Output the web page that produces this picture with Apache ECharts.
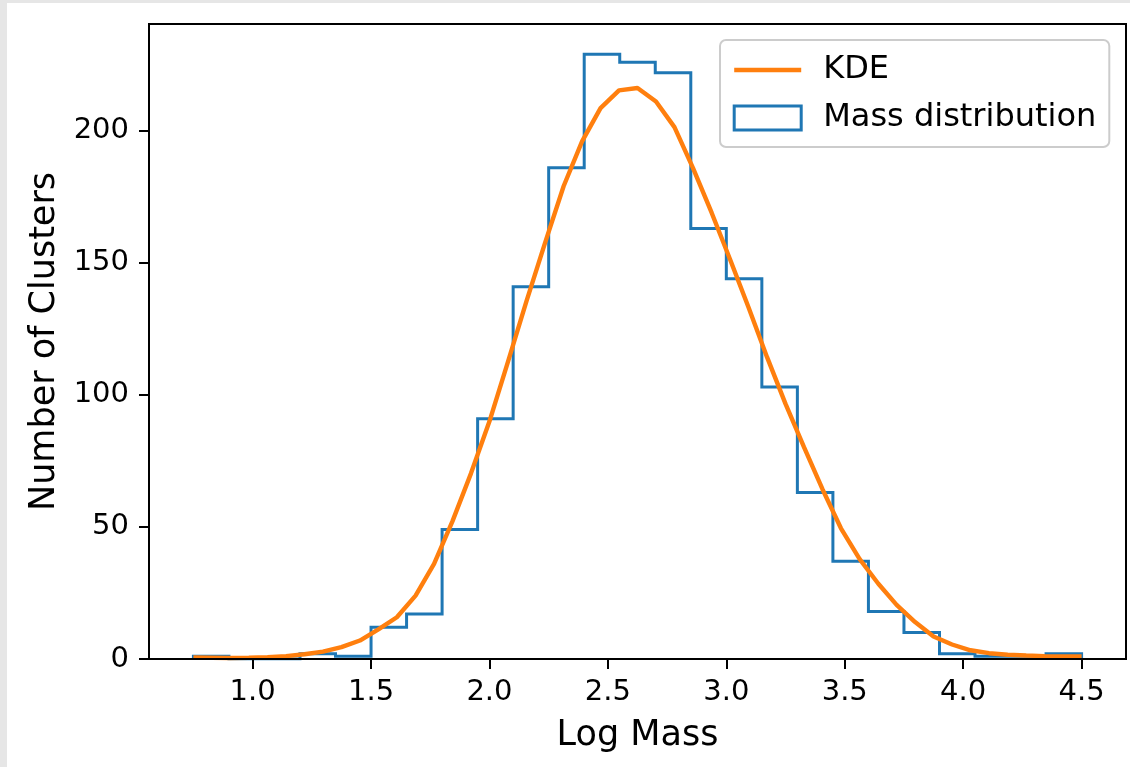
<!DOCTYPE html>
<html>
<head>
<meta charset="utf-8">
<script src="https://cdn.jsdelivr.net/npm/echarts@6/dist/echarts.min.js"></script>
<style>
  html, body { margin: 0; padding: 0; background: #e6e6e6; }
  #paper { position: absolute; left: 7px; top: 3px; width: 1123px; height: 764px; background: #ffffff; }
  #chart { position: absolute; left: 0; top: 0; width: 1130px; height: 767px; }
</style>
</head>
<body>
<div id="paper"></div>
<div id="chart"></div>
<script>
// Histogram bin edges (Log Mass) and counts
const binEdges = [0.75, 0.90, 1.05, 1.20, 1.35, 1.50, 1.65, 1.80, 1.95, 2.10, 2.25, 2.40, 2.55,
                  2.70, 2.85, 3.00, 3.15, 3.30, 3.45, 3.60, 3.75, 3.90, 4.05, 4.20, 4.35, 4.50];
const binCounts = [1, 0, 0, 2, 1, 12, 17, 49, 91, 141, 186, 229, 226,
                   222, 163, 144, 103, 63, 37, 18, 10, 2, 1, 1, 2];

// KDE curve (scaled to counts)
const kdeX = [0.750, 0.828, 0.906, 0.984, 1.063, 1.141, 1.219, 1.297, 1.375, 1.453,
              1.531, 1.609, 1.688, 1.766, 1.844, 1.922, 2.000, 2.078, 2.156, 2.234,
              2.313, 2.391, 2.469, 2.547, 2.625, 2.703, 2.781, 2.859, 2.938, 3.016,
              3.094, 3.172, 3.250, 3.328, 3.406, 3.484, 3.563, 3.641, 3.719, 3.797,
              3.875, 3.953, 4.031, 4.109, 4.188, 4.266, 4.344, 4.422, 4.500];
const kdeY = [0.6, 0.5, 0.4, 0.5, 0.7, 1.1, 1.8, 2.8, 4.5, 7.0,
              11.2, 15.8, 24.0, 36.0, 52.2, 70.3, 90.0, 112.5, 135.4, 157.4,
              179.0, 196.0, 208.6, 215.3, 216.2, 211.1, 201.4, 186.0, 169.0, 151.3,
              133.1, 114.3, 96.6, 80.2, 64.3, 49.5, 37.8, 28.6, 20.5, 14.0,
              8.5, 5.5, 3.3, 2.2, 1.6, 1.3, 1.1, 1.0, 1.0];

const xTicks = [1.0, 1.5, 2.0, 2.5, 3.0, 3.5, 4.0, 4.5];
const yTicks = [0, 50, 100, 150, 200];

const xLabel = 'Log Mass';
const yLabel = 'Number of Clusters';
const kdeName = 'KDE';
const histName = 'Mass distribution';

// Build step outline points from bins
const histPts = [[binEdges[0], 0]];
for (let i = 0; i < binCounts.length; i++) histPts.push([binEdges[i], binCounts[i]]);
histPts.push([binEdges[binEdges.length - 1], 0]);
const kdePts = kdeX.map((x, i) => [x, kdeY[i]]);

const FONT = 'DejaVu Sans';
const chart = echarts.init(document.getElementById('chart'), null, { renderer: 'canvas' });
chart.setOption({
  animation: false,
  backgroundColor: 'transparent',
  textStyle: { fontFamily: FONT },
  grid: {
    left: 149, right: 4, top: 24, bottom: 108,
    show: true, borderColor: '#000', borderWidth: 2, backgroundColor: 'transparent'
  },
  legend: {
    orient: 'vertical',
    left: 720, top: 40,
    padding: [12, 13, 11, 12],
    itemGap: 12,
    itemWidth: 67, itemHeight: 24,
    backgroundColor: 'rgba(255,255,255,0.8)',
    borderColor: '#cccccc', borderWidth: 2, borderRadius: 6,
    textStyle: { fontFamily: FONT, fontSize: 32, color: '#000', lineHeight: 36, padding: [0, 0, 0, 17] },
    data: [
      { name: kdeName, lineStyle: { width: 4.4, color: '#ff7f0e' },
        itemStyle: { color: 'rgba(0,0,0,0)', borderColor: 'rgba(0,0,0,0)', borderWidth: 0, opacity: 0 } },
      { name: histName, icon: 'rect', itemStyle: { color: '#ffffff', borderColor: '#1f77b4', borderWidth: 3 } }
    ]
  },
  xAxis: {
    type: 'value',
    min: 0.5625, max: 4.6875,
    z: 10,
    name: xLabel, nameLocation: 'middle', nameGap: 59,
    nameTextStyle: { fontFamily: FONT, fontSize: 35, color: '#000' },
    axisLine: { show: true, onZero: false, lineStyle: { color: '#000', width: 2 } },
    axisTick: { show: true, customValues: xTicks, length: 10, lineStyle: { color: '#000', width: 2 } },
    axisLabel: { customValues: xTicks, formatter: v => Number(v).toFixed(1),
                 fontFamily: FONT, fontSize: 29, color: '#000', margin: 19 },
    splitLine: { show: false }
  },
  yAxis: {
    type: 'value',
    min: 0, max: 240.45,
    z: 10,
    name: yLabel, nameLocation: 'middle', nameGap: 86,
    nameTextStyle: { fontFamily: FONT, fontSize: 35, color: '#000' },
    axisLine: { show: true, lineStyle: { color: '#000', width: 2 } },
    axisTick: { show: true, customValues: yTicks, length: 10, lineStyle: { color: '#000', width: 2 } },
    axisLabel: { customValues: yTicks, formatter: v => String(v),
                 fontFamily: FONT, fontSize: 29, color: '#000', margin: 20 },
    splitLine: { show: false }
  },
  series: [
    {
      name: histName, type: 'line', step: 'end', data: histPts,
      symbol: 'none', z: 2,
      lineStyle: { color: '#1f77b4', width: 3, join: 'miter', cap: 'butt' },
      itemStyle: { color: '#1f77b4' }
    },
    {
      name: kdeName, type: 'line', data: kdePts,
      symbol: 'none', z: 3,
      lineStyle: { color: '#ff7f0e', width: 4.4 },
      itemStyle: { color: '#ff7f0e' }
    }
  ]
});
</script>
</body>
</html>
